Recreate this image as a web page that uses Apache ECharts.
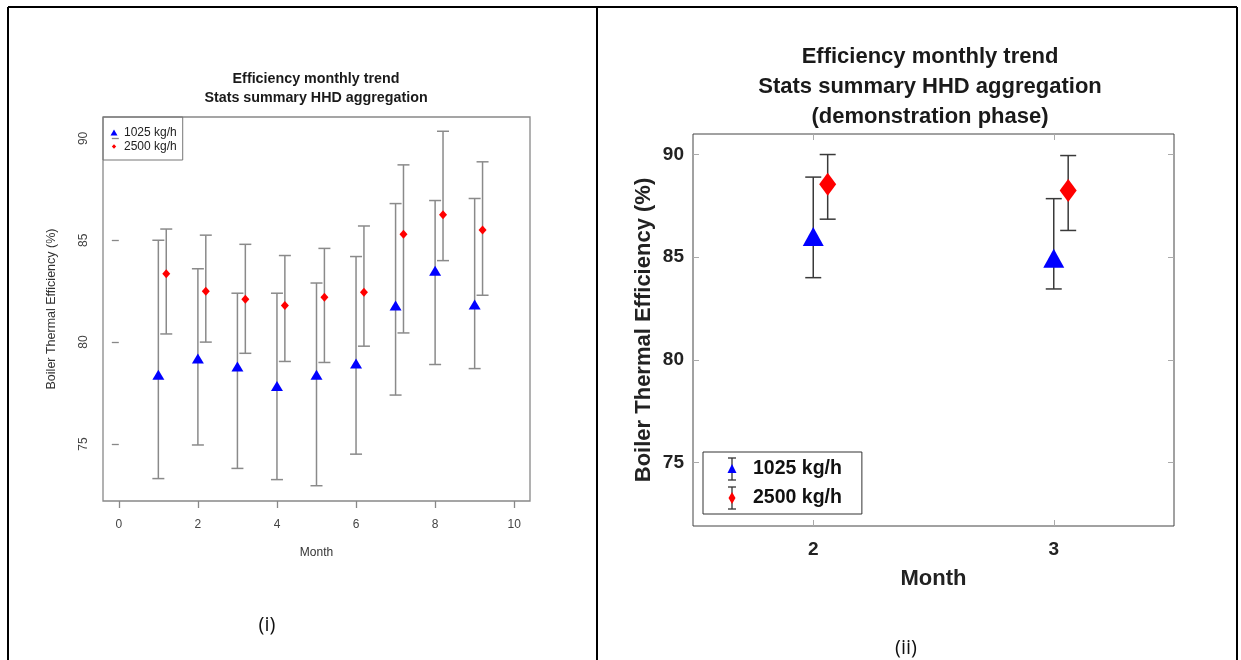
<!DOCTYPE html>
<html><head><meta charset="utf-8">
<script src="https://cdn.jsdelivr.net/npm/echarts@6/dist/echarts.min.js"></script>
<style>html,body{margin:0;padding:0;background:#fff}#c{width:1241px;height:660px}</style>
</head><body><div id="c"></div>
<script>
// ---------- Panel (i) data ----------
const monthsA = [1, 2, 3, 4, 5, 6, 7, 8, 9];
const a1025Mean = [78.4, 79.2, 78.8, 77.85, 78.4, 78.95, 81.8, 83.5, 81.85];
const a1025Low  = [73.3, 74.95, 73.8, 73.25, 72.95, 74.5, 77.4, 78.9, 78.7];
const a1025High = [85.0, 83.6, 82.4, 82.4, 82.9, 84.2, 86.8, 86.95, 87.05];
const a2500Mean = [83.35, 82.5, 82.1, 81.8, 82.2, 82.45, 85.3, 86.25, 85.5];
const a2500Low  = [80.4, 80.0, 79.45, 79.05, 79.0, 79.8, 80.45, 84.0, 82.3];
const a2500High = [85.55, 85.25, 84.8, 84.25, 84.6, 85.7, 88.7, 90.35, 88.85];
const xTicksA = [0, 2, 4, 6, 8, 10];
const yTicksA = [75, 80, 85, 90];

// ---------- Panel (ii) data ----------
const monthsB = [2, 3];
const b1025Mean = [86.0, 84.95];
const b1025Low  = [84.0, 83.45];
const b1025High = [88.9, 87.85];
const b2500Mean = [88.55, 88.25];
const b2500Low  = [86.85, 86.3];
const b2500High = [90.0, 89.95];
const xTicksB = [2, 3];
const yTicksB = [75, 80, 85, 90];

const seriesNames = ['1025 kg/h', '2500 kg/h'];
const dodgeA = 0.2, dodgeB = 0.06;

function errRender(cap, color, lw) {
  return function (params, api) {
    const x = api.value(0), lo = api.value(1), hi = api.value(2);
    const pL = api.coord([x, lo]), pH = api.coord([x, hi]);
    const st = {stroke: color, lineWidth: lw};
    return {type: 'group', children: [
      {type: 'line', shape: {x1: pL[0], y1: pL[1], x2: pH[0], y2: pH[1]}, style: st},
      {type: 'line', shape: {x1: pH[0] - cap, y1: pH[1], x2: pH[0] + cap, y2: pH[1]}, style: st},
      {type: 'line', shape: {x1: pL[0] - cap, y1: pL[1], x2: pL[0] + cap, y2: pL[1]}, style: st}
    ]};
  };
}
function errSeries(id, xs, lo, hi, axis, dx, cap, color, lw) {
  return {type: 'custom', name: id, xAxisIndex: axis, yAxisIndex: axis, silent: true, z: 2,
    data: xs.map((x, i) => [x + dx, lo[i], hi[i]]), encode: {x: 0, y: [1, 2]},
    renderItem: errRender(cap, color, lw), clip: false};
}
function svgIcon(svg) { return 'image://data:image/svg+xml;utf8,' + encodeURIComponent(svg); }

const iconA1 = svgIcon('<svg xmlns="http://www.w3.org/2000/svg" width="10" height="10" viewBox="0 0 10 10"><polygon points="5,2 8.5,8 1.5,8" fill="#0000ff"/></svg>');
const iconA2 = svgIcon('<svg xmlns="http://www.w3.org/2000/svg" width="10" height="10" viewBox="0 0 10 10"><polygon points="5,2.8 7.2,5 5,7.2 2.8,5" fill="#ff0000"/></svg>');
const iconB1 = svgIcon('<svg xmlns="http://www.w3.org/2000/svg" width="32" height="26" viewBox="0 0 32 26"><g stroke="#333" stroke-width="1.3"><line x1="16" y1="2" x2="16" y2="24"/><line x1="12" y1="2" x2="20" y2="2"/><line x1="12" y1="24" x2="20" y2="24"/></g><polygon points="16,8 20.5,17 11.5,17" fill="#0000ff"/></svg>');
const iconB2 = svgIcon('<svg xmlns="http://www.w3.org/2000/svg" width="32" height="26" viewBox="0 0 32 26"><g stroke="#333" stroke-width="1.3"><line x1="16" y1="2" x2="16" y2="24"/><line x1="12" y1="2" x2="20" y2="2"/><line x1="12" y1="24" x2="20" y2="24"/></g><polygon points="16,7 19.5,13 16,19 12.5,13" fill="#ff0000"/></svg>');

const FONT = '"Liberation Sans", Arial, sans-serif';
const greyA = '#8a8a8a';

const option = {
  animation: false,
  backgroundColor: '#fff',
  textStyle: {fontFamily: FONT},
  title: [
    {text: 'Efficiency monthly trend\nStats summary HHD aggregation', left: 316, top: 70, padding: 0,
     textAlign: 'center', textStyle: {fontFamily: FONT, fontSize: 14.3, fontWeight: 'bold', lineHeight: 18.5, color: '#1a1a1a'}},
    {text: 'Efficiency monthly trend\nStats summary HHD aggregation\n(demonstration phase)', left: 930, top: 42, padding: 0,
     textAlign: 'center', textStyle: {fontFamily: FONT, fontSize: 22, fontWeight: 'bold', lineHeight: 30, color: '#1a1a1a'}}
  ],
  legend: [
    {orient: 'vertical', left: 103, top: 117, padding: [9, 6, 7, 6], itemGap: 1, itemWidth: 10, itemHeight: 10,
     borderColor: '#777', borderWidth: 1, selectedMode: false,
     textStyle: {fontFamily: FONT, fontSize: 12, color: '#222', lineHeight: 13},
     data: [{name: seriesNames[0], icon: iconA1}, {name: seriesNames[1], icon: iconA2}]},
    {orient: 'vertical', left: 703, top: 452, padding: [4, 20, 3, 13], itemGap: 3, itemWidth: 32, itemHeight: 26,
     borderColor: '#333', borderWidth: 1, selectedMode: false,
     textStyle: {fontFamily: FONT, fontSize: 19.5, fontWeight: 'bold', color: '#111'},
     data: [{name: seriesNames[0], icon: iconB1}, {name: seriesNames[1], icon: iconB2}]}
  ],
  grid: [
    {left: 103, top: 117, width: 427, height: 384, show: true, borderColor: '#888', borderWidth: 1.3, containLabel: false},
    {left: 693, top: 134, width: 481, height: 392, show: true, borderColor: '#444', borderWidth: 1, containLabel: false}
  ],
  xAxis: [
    {gridIndex: 0, type: 'value', min: -0.4, max: 10.4, splitLine: {show: false},
     axisLine: {show: false},
     axisTick: {show: true, inside: false, length: 7, customValues: xTicksA, lineStyle: {color: '#888', width: 1.3}},
     axisLabel: {customValues: xTicksA, fontSize: 12, color: '#444', margin: 18, fontFamily: FONT},
     name: 'Month', nameLocation: 'middle', nameGap: 46, nameTextStyle: {fontSize: 12, color: '#333', fontFamily: FONT}},
    {gridIndex: 1, type: 'value', min: 1.5, max: 3.5, splitLine: {show: false},
     axisLine: {show: false},
     axisTick: {show: true, inside: true, length: 6, customValues: xTicksB, lineStyle: {color: '#aaa'}},
     axisLabel: {customValues: xTicksB, fontSize: 19, fontWeight: 'bold', color: '#222', margin: 14, fontFamily: FONT},
     name: 'Month', nameLocation: 'middle', nameGap: 42, nameTextStyle: {fontSize: 22, fontWeight: 'bold', color: '#222', fontFamily: FONT}},
    {gridIndex: 1, type: 'value', position: 'top', min: 1.5, max: 3.5, splitLine: {show: false},
     axisLine: {show: false}, axisLabel: {show: false},
     axisTick: {show: true, inside: true, length: 6, customValues: xTicksB, lineStyle: {color: '#aaa'}}}
  ],
  yAxis: [
    {gridIndex: 0, type: 'value', min: 72.2, max: 91.05, splitLine: {show: false},
     axisLine: {show: false},
     axisTick: {show: true, inside: false, length: 7, customValues: yTicksA, lineStyle: {color: '#888', width: 1.3}},
     axisLabel: {customValues: yTicksA, rotate: 90, fontSize: 12, color: '#444', margin: 13, fontFamily: FONT},
     name: 'Boiler Thermal Efficiency (%)', nameLocation: 'middle', nameRotate: 90, nameGap: 45,
     nameTextStyle: {fontSize: 12.5, color: '#333', fontFamily: FONT}},
    {gridIndex: 1, type: 'value', min: 71.9, max: 91, splitLine: {show: false},
     axisLine: {show: false},
     axisTick: {show: true, inside: true, length: 6, customValues: yTicksB, lineStyle: {color: '#aaa'}},
     axisLabel: {customValues: yTicksB, fontSize: 19, fontWeight: 'bold', color: '#222', margin: 9, fontFamily: FONT},
     name: 'Boiler Thermal Efficiency (%)', nameLocation: 'middle', nameRotate: 90, nameGap: 38,
     nameTextStyle: {fontSize: 22, fontWeight: 'bold', color: '#222', fontFamily: FONT}},
    {gridIndex: 1, type: 'value', position: 'right', min: 71.9, max: 91, splitLine: {show: false},
     axisLine: {show: false}, axisLabel: {show: false},
     axisTick: {show: true, inside: true, length: 6, customValues: yTicksB, lineStyle: {color: '#aaa'}}}
  ],
  series: [
    errSeries('err a1025', monthsA, a1025Low, a1025High, 0, 0, 6, greyA, 1.5),
    errSeries('err a2500', monthsA, a2500Low, a2500High, 0, dodgeA, 6, greyA, 1.5),
    {type: 'scatter', name: seriesNames[0], xAxisIndex: 0, yAxisIndex: 0, z: 3, symbol: 'triangle', symbolSize: [12, 10],
     itemStyle: {color: '#0000ff', opacity: 1}, data: monthsA.map((m, i) => [m, a1025Mean[i]])},
    {type: 'scatter', name: seriesNames[1], xAxisIndex: 0, yAxisIndex: 0, z: 3, symbol: 'diamond', symbolSize: [8, 9],
     itemStyle: {color: '#ff0000', opacity: 1}, data: monthsA.map((m, i) => [m + dodgeA, a2500Mean[i]])},
    errSeries('err b1025', monthsB, b1025Low, b1025High, 1, 0, 8, '#3a3a3a', 1.5),
    errSeries('err b2500', monthsB, b2500Low, b2500High, 1, dodgeB, 8, '#3a3a3a', 1.5),
    {type: 'scatter', name: seriesNames[0], xAxisIndex: 1, yAxisIndex: 1, z: 3, symbol: 'triangle', symbolSize: [21, 19],
     itemStyle: {color: '#0000ff', opacity: 1}, data: monthsB.map((m, i) => [m, b1025Mean[i]])},
    {type: 'scatter', name: seriesNames[1], xAxisIndex: 1, yAxisIndex: 1, z: 3, symbol: 'diamond', symbolSize: [17, 23],
     itemStyle: {color: '#ff0000', opacity: 1}, data: monthsB.map((m, i) => [m + dodgeB, b2500Mean[i]])}
  ],
  graphic: [
    {type: 'line', shape: {x1: 8, y1: 7, x2: 1237, y2: 7}, style: {stroke: '#000', lineWidth: 2}},
    {type: 'line', shape: {x1: 8, y1: 7, x2: 8, y2: 660}, style: {stroke: '#000', lineWidth: 2}},
    {type: 'line', shape: {x1: 597, y1: 7, x2: 597, y2: 660}, style: {stroke: '#000', lineWidth: 2}},
    {type: 'line', shape: {x1: 1237, y1: 7, x2: 1237, y2: 660}, style: {stroke: '#000', lineWidth: 2}},
    {type: 'text', x: 267, y: 625, style: {text: '(i)', font: '20px "Open Sans", "Liberation Sans", sans-serif', fill: '#111', textAlign: 'center', textVerticalAlign: 'middle'}},
    {type: 'text', x: 906, y: 648, style: {text: '(ii)', font: '20px "Open Sans", "Liberation Sans", sans-serif', fill: '#111', textAlign: 'center', textVerticalAlign: 'middle'}}
  ]
};
const chart = echarts.init(document.getElementById('c'), null, {renderer: 'canvas'});
chart.setOption(option);
</script>
</body></html>
